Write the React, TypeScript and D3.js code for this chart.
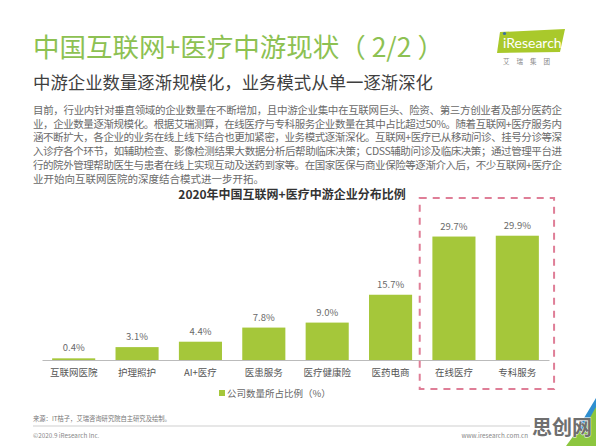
import { useEffect, useRef } from 'react';
import * as d3 from 'd3';

const categories = ['互联网医院', '护理照护', 'AI+医疗', '医患服务', '医疗健康险', '医药电商', '在线医疗', '专科服务'];
const shares = [0.4, 3.1, 4.4, 7.8, 9.0, 15.7, 29.7, 29.9];
const highlighted = ['在线医疗', '专科服务'];

const pageTitle = '中国互联网+医疗中游现状（ 2/2 ）';
const pageSubtitle = '中游企业数量逐渐规模化，业务模式从单一逐渐深化';
const paragraph = [
  '目前，行业内针对垂直领域的企业数量在不断增加，且中游企业集中在互联网巨头、险资、第三方创业者及部分医药企',
  '业，企业数量逐渐规模化。根据艾瑞测算，在线医疗与专科服务企业数量在其中占比超过50%。随着互联网+医疗服务内',
  '涵不断扩大，各企业的业务在线上线下结合也更加紧密，业务模式逐渐深化。互联网+医疗已从移动问诊、挂号分诊等深',
  '入诊疗各个环节，如辅助检查、影像检测结果大数据分析后帮助临床决策；CDSS辅助问诊及临床决策；通过管理平台进',
  '行的院外管理帮助医生与患者在线上实现互动及送药到家等。在国家医保与商业保险等逐渐介入后，不少互联网+医疗企',
  '业开始向互联网医院的深度结合模式进一步开拓。',
];
const chartTitle = '2020年中国互联网+医疗中游企业分布比例';
const legendLabel = '公司数量所占比例（%）';
const sourceNote = '来源：IT桔子，艾瑞咨询研究院自主研究及绘制。';
const copyright = '©2020.9 iResearch Inc.';
const website = 'www.iresearch.com.cn';

const FONT = '"Noto Sans CJK SC", "Noto Sans", sans-serif';
const GREEN = '#a5c73a';

export default function App() {
  const svgRef = useRef<SVGSVGElement>(null);

  useEffect(() => {
    if (!svgRef.current) return;
    const W = 596;
    const H = 446;

    d3.select(svgRef.current).selectAll('*').remove();
    const svg = d3.select(svgRef.current)
      .attr('width', W)
      .attr('height', H)
      .style('font-family', FONT);

    svg.append('rect').attr('width', W).attr('height', H).attr('fill', '#fff');

    // Header
    svg.append('text')
      .attr('x', 33).attr('y', 57)
      .attr('font-size', 26.5)
      .attr('fill', '#8dc152')
      .text(pageTitle);

    svg.append('text')
      .attr('x', 33).attr('y', 88.5)
      .attr('font-size', 17.4)
      .attr('fill', '#3f3f3f')
      .text(pageSubtitle);

    // iResearch logo
    const logo = svg.append('g');
    logo.append('polygon')
      .attr('points', '500,32 565,29 560,52 497,53')
      .attr('fill', '#a9c92b');
    logo.append('text')
      .attr('x', 503).attr('y', 48)
      .attr('font-size', 14)
      .attr('font-family', 'Lato, "Open Sans", sans-serif')
      .attr('fill', '#fff')
      .text('iResearch');
    logo.append('circle').attr('cx', 504.5).attr('cy', 33.5).attr('r', 1.6).attr('fill', '#3a6ea5');
    logo.append('text')
      .attr('x', 530).attr('y', 64)
      .attr('text-anchor', 'middle')
      .attr('font-size', 6.5)
      .attr('letter-spacing', 7)
      .attr('fill', '#888')
      .text('艾瑞集团');

    // Body text
    const body = svg.append('g')
      .attr('font-size', 10.5)
      .attr('fill', '#6a6a6a');
    paragraph.forEach((line, i) => {
      const t = body.append('text')
        .attr('x', 33)
        .attr('y', 114 + i * 13.7)
        .text(line);
      if (i < paragraph.length - 1) {
        t.attr('textLength', 529).attr('lengthAdjust', 'spacing');
      }
    });

    // Chart
    const x = d3.scaleBand<string>()
      .domain(categories)
      .range([42, 549])
      .paddingInner(0.32)
      .paddingOuter(0.16);

    const y = d3.scaleLinear()
      .domain([0, 30])
      .range([360, 235.3]);

    svg.append('text')
      .attr('x', 292).attr('y', 198.5)
      .attr('text-anchor', 'middle')
      .attr('font-size', 12)
      .attr('font-weight', 'bold')
      .attr('fill', '#333')
      .text(chartTitle);

    svg.append('g')
      .selectAll('rect')
      .data(shares)
      .join('rect')
      .attr('x', (_, i) => x(categories[i]) ?? 0)
      .attr('y', d => y(d))
      .attr('width', x.bandwidth())
      .attr('height', d => y(0) - y(d))
      .attr('fill', GREEN);

    svg.append('g')
      .selectAll('text')
      .data(shares)
      .join('text')
      .attr('x', (_, i) => (x(categories[i]) ?? 0) + x.bandwidth() / 2)
      .attr('y', d => y(d) - 7)
      .attr('text-anchor', 'middle')
      .attr('font-size', 9.5)
      .attr('fill', '#6a6a6a')
      .text(d => `${d.toFixed(1)}%`);

    const axis = svg.append('g')
      .attr('transform', `translate(0,${y(0)})`)
      .call(d3.axisBottom(x).tickSize(0).tickPadding(9));
    axis.select('.domain').attr('stroke', '#bbb').attr('stroke-width', 1);
    axis.selectAll('text')
      .attr('font-family', FONT)
      .attr('font-size', 9.5)
      .attr('fill', '#555');

    // Highlight box
    const step = x.step();
    const boxLeft = (x(highlighted[0]) ?? 0) - step * 0.2;
    const boxRight = (x(highlighted[1]) ?? 0) + x.bandwidth() + step * 0.24;
    svg.append('rect')
      .attr('x', boxLeft)
      .attr('y', 198)
      .attr('width', boxRight - boxLeft)
      .attr('height', 191)
      .attr('fill', 'none')
      .attr('stroke', '#df7e97')
      .attr('stroke-width', 2)
      .attr('stroke-dasharray', '7,6');

    // Legend
    const legend = svg.append('g').attr('transform', 'translate(219,393)');
    legend.append('rect').attr('x', 0).attr('y', -3).attr('width', 6).attr('height', 6).attr('fill', GREEN);
    legend.append('text')
      .attr('x', 8).attr('y', 3.5)
      .attr('font-size', 9.5)
      .attr('fill', '#666')
      .text(legendLabel);

    // Footer
    svg.append('text')
      .attr('x', 33).attr('y', 421)
      .attr('font-size', 6.3)
      .attr('fill', '#777')
      .text(sourceNote);
    svg.append('line')
      .attr('x1', 33).attr('x2', 530)
      .attr('y1', 426).attr('y2', 426)
      .attr('stroke', '#cfcfcf')
      .attr('stroke-width', 1);
    svg.append('text')
      .attr('x', 33).attr('y', 438)
      .attr('font-size', 6.3)
      .attr('fill', '#888')
      .text(copyright);
    svg.append('text')
      .attr('x', 528).attr('y', 438)
      .attr('text-anchor', 'end')
      .attr('font-size', 6.3)
      .attr('fill', '#888')
      .text(website);

    // Corner watermark
    svg.append('polygon')
      .attr('points', `${W},405 ${W},${H} 566,${H}`)
      .attr('fill', '#8cc63f');
    svg.append('polygon')
      .attr('points', `${W},398 ${W},407 582,${H - 14} 578,${H - 18}`)
      .attr('fill', '#2f8fd0');
    svg.append('text')
      .attr('x', 562).attr('y', 435)
      .attr('text-anchor', 'middle')
      .attr('font-size', 20)
      .attr('font-weight', 'bold')
      .attr('fill', '#6f6f6f')
      .attr('stroke', '#fff')
      .attr('stroke-width', 0.8)
      .attr('paint-order', 'stroke')
      .text('思创网');
  }, []);

  return (
    <svg ref={svgRef} style={{ position: 'absolute', left: 0, top: 0, display: 'block' }}></svg>
  );
}
